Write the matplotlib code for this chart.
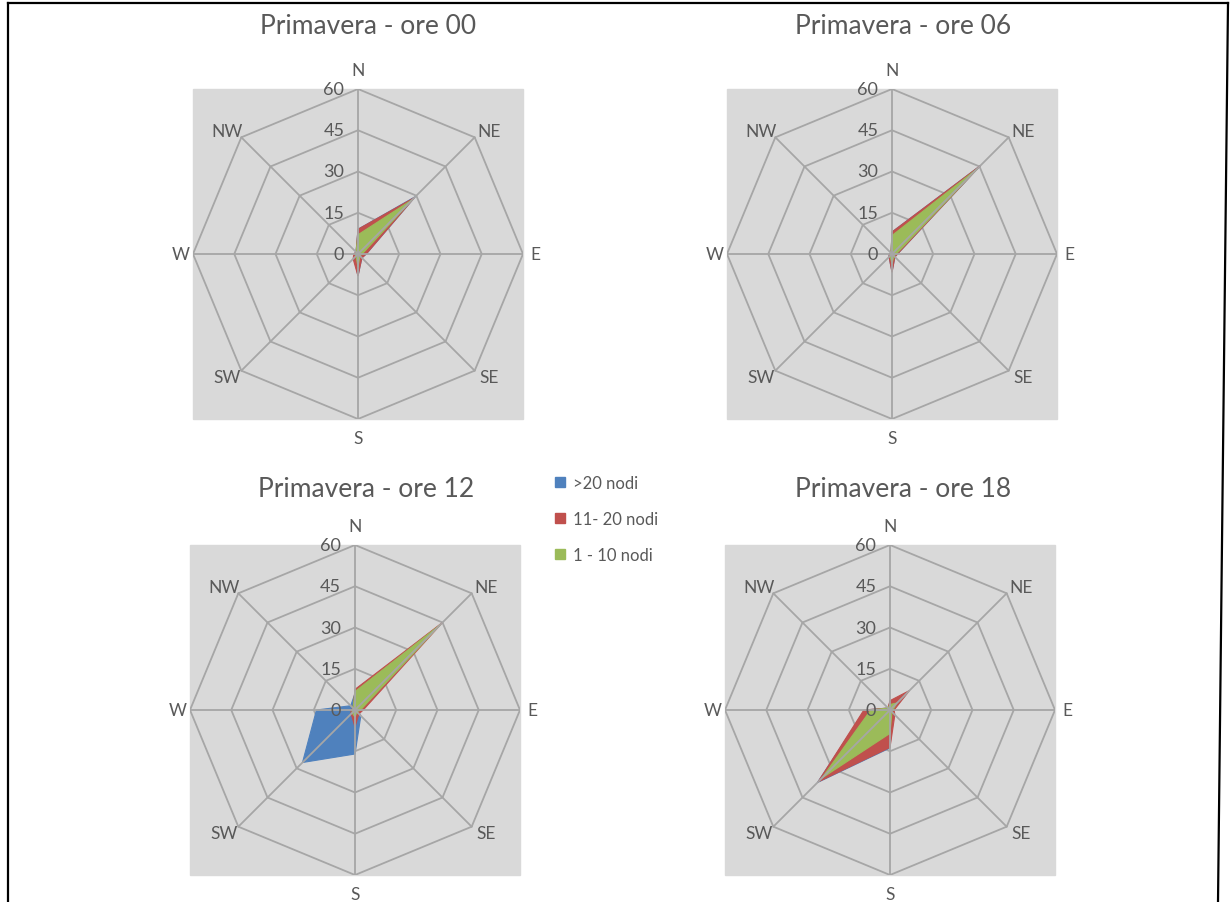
import numpy as np
import matplotlib
matplotlib.use("Agg")
import matplotlib.pyplot as plt
from matplotlib.lines import Line2D
from matplotlib.patches import Patch

plt.rcParams['font.family'] = ['Lato', 'DejaVu Sans']

# wind roses, spring
directions = ["N", "NE", "E", "SE", "S", "SW", "W", "NW"]
rings = [0, 15, 30, 45, 60]
series_names = [">20 nodi", "11- 20 nodi", "1 - 10 nodi"]
titles = ["Primavera - ore 00", "Primavera - ore 06",
          "Primavera - ore 12", "Primavera - ore 18"]

# order: N, NE, E, SE, S, SW, W, NW
over20_00 = [9, 29.5, 3, 2, 8, 2, 1.5, 1]
mid_00 = [9, 29, 3, 2, 8, 2.5, 1.5, 1]
low_00 = [7, 28, 1.5, 1, 4.8, 1, 1, 1]

over20_06 = [8, 45.5, 2, 1.5, 6.5, 1.5, 1, 0.5]
mid_06 = [8, 45.5, 2, 1.5, 6.7, 1.5, 1, 0.5]
low_06 = [6.7, 44, 1.5, 1, 3.6, 1, 0.5, 0.5]

over20_12 = [6, 4, 1, 3, 16, 27, 14, 2.2]
mid_12 = [7.5, 45, 3, 2, 6.2, 2, 1.5, 1]
low_12 = [6.7, 44, 2, 1, 2.6, 1.5, 1, 1]

over20_18 = [3, 9, 1, 1.5, 13.8, 37.3, 9, 1]
mid_18 = [3.4, 10, 1.5, 2.5, 13.6, 37, 9.5, 1]
low_18 = [2, 3.6, 1, 1, 8.5, 35, 7, 1]

data = [
    (over20_00, mid_00, low_00),
    (over20_06, mid_06, low_06),
    (over20_12, mid_12, low_12),
    (over20_18, mid_18, low_18),
]

colors = ["#4f81bd", "#c0504d", "#9bbb59"]
grid_col = "#a6a6a6"
txt_col = "#595959"

W, H = 1232, 903
fig = plt.figure(figsize=(W / 100, H / 100), dpi=100)
fig.patch.set_facecolor("white")

# (center x, center y) in pixels for each panel, radius 165 px
centers = [(358, 255), (892, 255), (355, 711), (890, 711)]
title_pos = [(368, 27), (903, 27), (366, 490), (903, 490)]
R = 165

ang = np.pi / 2 - np.arange(len(directions)) * 2 * np.pi / len(directions)


def xy(vals):
    v = np.asarray(vals, dtype=float)
    x = v * np.cos(ang)
    y = v * np.sin(ang)
    return np.append(x, x[0]), np.append(y, y[0])


for k, (cx, cy) in enumerate(centers):
    ax = fig.add_axes([(cx - R) / W, 1 - (cy + R) / H, 2 * R / W, 2 * R / H])
    ax.set_facecolor("#d9d9d9")
    ax.set_xlim(-60, 60)
    ax.set_ylim(-60, 60)
    ax.set_aspect("equal")
    ax.axis("off")
    ax.add_patch(plt.Rectangle((-60, -60), 120, 120, color="#d9d9d9", zorder=0, clip_on=False))

    for r in rings[1:]:
        gx, gy = xy([r] * len(directions))
        ax.plot(gx, gy, color=grid_col, lw=1.3, zorder=1)

    for vals, c in zip(data[k], colors):
        px, py = xy(vals)
        ax.fill(px, py, color=c, zorder=2, lw=0.8, edgecolor=c)

    for a in ang:
        ax.plot([0, 60 * np.cos(a)], [0, 60 * np.sin(a)], color=grid_col, lw=1.3, zorder=3)

    for a, d in zip(ang, directions):
        if d in ("N", "S"):
            lx, ly = 0, 67 * np.sin(a)
        elif d in ("E", "W"):
            lx, ly = 64.5 * np.cos(a), 0
        else:
            lx, ly = 67.5 * np.cos(a), 63 * np.sin(a)
        ax.text(lx, ly, d, ha="center", va="center",
                fontsize=12.5, color=txt_col, clip_on=False)

    for r in rings:
        ax.text(-5, r, str(r), ha="right", va="center", fontsize=13,
                color=txt_col, clip_on=False, zorder=4)

    tx, ty = title_pos[k]
    fig.text(tx / W, 1 - ty / H, titles[k], ha="center", va="center",
             fontsize=19, color=txt_col)

handles = [Patch(facecolor=c, edgecolor=c) for c in colors]
fig.legend(handles, series_names, loc="upper left",
           bbox_to_anchor=(555 / W, 1 - 476 / H), frameon=False,
           fontsize=12, labelcolor=txt_col, handlelength=0.6, handleheight=0.6,
           handletextpad=0.5, labelspacing=1.2, borderpad=0, borderaxespad=0)

# outer frame
fig.add_artist(Line2D([8 / W, 8 / W], [0, 1 - 4 / H], transform=fig.transFigure, color="black", lw=1.6))
fig.add_artist(Line2D([8 / W, 1228 / W], [1 - 4 / H, 1 - 4 / H], transform=fig.transFigure, color="black", lw=1.6))
fig.add_artist(Line2D([1228 / W, 1218 / W], [1 - 4 / H, 0], transform=fig.transFigure, color="black", lw=1.6))

fig.savefig("out.png", dpi=100, facecolor="white")
